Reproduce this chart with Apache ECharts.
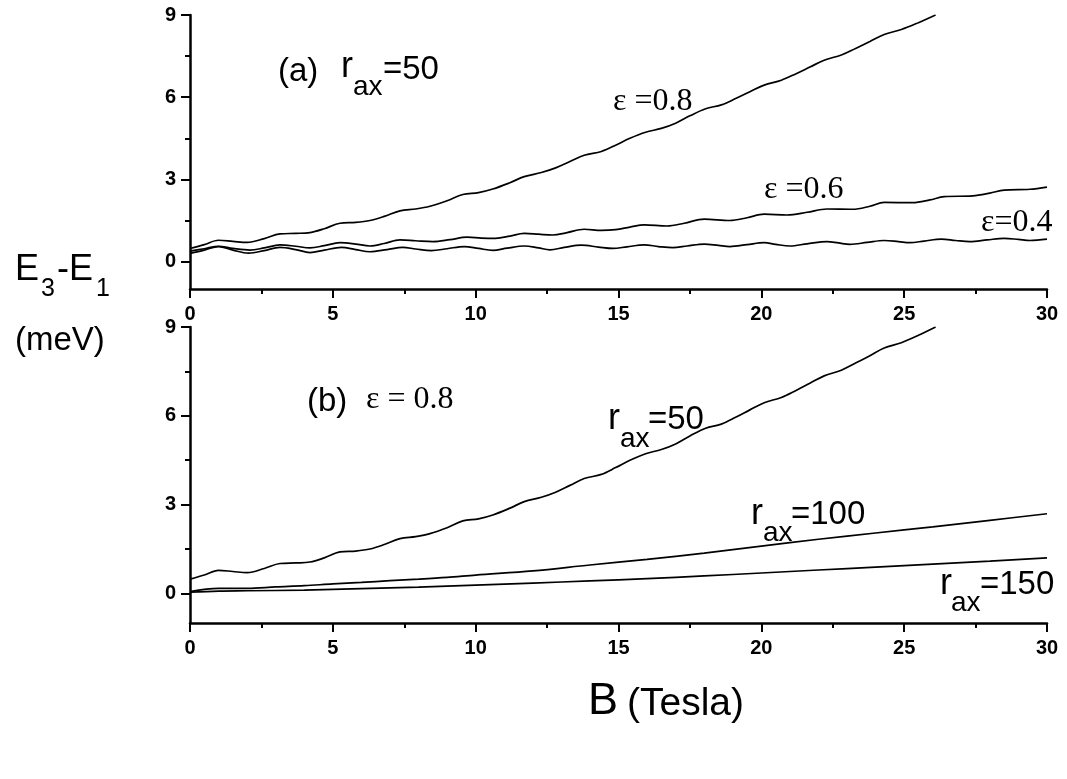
<!DOCTYPE html>
<html>
<head>
<meta charset="utf-8">
<script src="https://cdn.jsdelivr.net/npm/echarts@6/dist/echarts.min.js"></script>
<style>
  html, body { margin: 0; padding: 0; background: #fff; }
  #main { width: 1067px; height: 779px; }
</style>
</head>
<body>
<div id="main"></div>
<script>
// B (Tesla) and E3-E1 (meV)
const bEps08 = [0, 0.5, 1.0, 1.5, 2.0, 2.6, 3.15, 3.7, 4.2, 4.7, 5.25, 5.8, 6.3, 6.8, 7.35, 7.9, 8.4, 9.0, 9.55, 10.1, 10.6, 11.2, 11.7, 12.3, 12.8, 13.3, 13.8, 14.4, 14.9, 15.4, 15.95, 16.5, 17.0, 17.5, 18.05, 18.6, 19.1, 19.6, 20.1, 20.7, 21.2, 21.7, 22.2, 22.8, 23.3, 23.8, 24.3, 24.9, 25.5, 26.1];
const eps08 = [0.48, 0.62, 0.78, 0.74, 0.70, 0.84, 1.01, 1.03, 1.06, 1.20, 1.40, 1.43, 1.50, 1.65, 1.85, 1.92, 2.02, 2.22, 2.45, 2.52, 2.65, 2.88, 3.10, 3.25, 3.42, 3.65, 3.88, 4.02, 4.25, 4.50, 4.72, 4.86, 5.05, 5.32, 5.58, 5.72, 5.95, 6.20, 6.44, 6.62, 6.85, 7.10, 7.35, 7.54, 7.78, 8.03, 8.29, 8.47, 8.72, 9.0];

const bEps06 = [0, 0.5, 1.0, 1.5, 2.1, 2.6, 3.15, 3.7, 4.2, 4.7, 5.25, 5.8, 6.3, 6.8, 7.35, 7.9, 8.5, 9.1, 9.7, 10.2, 10.7, 11.2, 11.7, 12.2, 12.7, 13.2, 13.8, 14.4, 14.9, 15.4, 15.9, 16.7, 17.3, 18.0, 18.9, 19.5, 20.1, 20.9, 21.6, 22.3, 23.2, 23.8, 24.3, 25.3, 25.9, 26.4, 27.4, 28.0, 28.5, 29.4, 30.0];
const eps06 = [0.38, 0.47, 0.56, 0.48, 0.42, 0.50, 0.61, 0.56, 0.50, 0.58, 0.69, 0.64, 0.57, 0.66, 0.79, 0.76, 0.73, 0.80, 0.89, 0.86, 0.85, 0.93, 1.03, 1.00, 0.97, 1.06, 1.18, 1.14, 1.17, 1.26, 1.34, 1.30, 1.40, 1.55, 1.50, 1.60, 1.73, 1.70, 1.80, 1.92, 1.91, 2.02, 2.16, 2.15, 2.25, 2.37, 2.40, 2.50, 2.61, 2.64, 2.72];

const bEps04 = [0, 0.5, 1.0, 1.5, 2.05, 2.6, 3.15, 3.7, 4.2, 4.7, 5.3, 5.8, 6.3, 6.9, 7.45, 7.9, 8.45, 9.0, 9.6, 10.1, 10.6, 11.1, 11.7, 12.2, 12.6, 13.1, 13.7, 14.3, 14.8, 15.3, 15.9, 16.4, 16.9, 17.4, 18.0, 18.5, 18.9, 19.5, 20.1, 20.5, 21.0, 21.6, 22.3, 22.7, 23.1, 23.7, 24.3, 24.8, 25.2, 25.7, 26.3, 26.8, 27.3, 27.9, 28.5, 29.0, 29.4, 30.0];
const eps04 = [0.30, 0.42, 0.55, 0.42, 0.31, 0.40, 0.52, 0.44, 0.33, 0.42, 0.52, 0.44, 0.36, 0.44, 0.52, 0.46, 0.40, 0.47, 0.55, 0.48, 0.41, 0.49, 0.57, 0.50, 0.43, 0.52, 0.60, 0.53, 0.48, 0.54, 0.61, 0.55, 0.51, 0.57, 0.64, 0.59, 0.55, 0.62, 0.69, 0.63, 0.57, 0.65, 0.73, 0.68, 0.63, 0.70, 0.77, 0.73, 0.69, 0.75, 0.82, 0.77, 0.73, 0.79, 0.85, 0.81, 0.77, 0.82];

// panel (b): eps = 0.8, r_ax = 50 is the same curve as in panel (a)
const bRax50 = bEps08;
const rax50 = eps08;

const bRax100 = [0, 1, 2, 3, 4, 5, 6, 7, 8, 9, 10, 12, 14, 16, 18, 20, 22, 24, 26, 28, 30];
const rax100 = [0.06, 0.17, 0.17, 0.22, 0.26, 0.32, 0.37, 0.43, 0.48, 0.54, 0.62, 0.76, 0.96, 1.15, 1.36, 1.60, 1.83, 2.04, 2.25, 2.47, 2.69];

const bRax150 = [0, 1, 2, 4, 6, 8, 10, 12, 14, 16, 18, 20, 22, 24, 26, 28, 30];
const rax150 = [0.04, 0.08, 0.09, 0.11, 0.16, 0.21, 0.28, 0.35, 0.42, 0.50, 0.59, 0.69, 0.79, 0.89, 0.99, 1.09, 1.20];

const yTickValues = [0, 3, 6, 9];
const yMinorValues = [1.5, 4.5, 7.5];

const SANS = 'Liberation Sans';
const SERIF = 'Liberation Serif';

function zip(xs, ys) {
  return xs.map((x, i) => [x, ys[i]]);
}

function xAxisFor(gridIndex) {
  return {
    gridIndex: gridIndex,
    type: 'value',
    min: 0,
    max: 30,
    interval: 5,
    axisLine: { onZero: false, lineStyle: { color: '#000', width: 2.5 } },
    axisTick: { length: 9, lineStyle: { color: '#000', width: 2 } },
    minorTick: { show: true, splitNumber: 2, length: 5, lineStyle: { color: '#000', width: 2 } },
    axisLabel: { color: '#000', fontSize: 20, fontWeight: 'bold', fontFamily: SANS, margin: 15 },
    splitLine: { show: false },
    minorSplitLine: { show: false }
  };
}

function yAxesFor(gridIndex) {
  return [
    {
      gridIndex: gridIndex,
      type: 'value',
      min: -1,
      max: 9,
      axisLine: { show: true, onZero: false, lineStyle: { color: '#000', width: 2.5 } },
      axisTick: { show: true, length: 9, customValues: yTickValues, lineStyle: { color: '#000', width: 2 } },
      axisLabel: { color: '#000', fontSize: 20, fontWeight: 'bold', fontFamily: SANS, margin: 14, customValues: yTickValues },
      splitLine: { show: false }
    },
    {
      // only the minor ticks
      gridIndex: gridIndex,
      type: 'value',
      position: 'left',
      min: -1,
      max: 9,
      axisLine: { show: false, onZero: false },
      axisTick: { show: true, length: 5, customValues: yMinorValues, lineStyle: { color: '#000', width: 2 } },
      axisLabel: { show: false },
      splitLine: { show: false }
    }
  ];
}

function curve(name, xi, yi, data) {
  return {
    name: name,
    type: 'line',
    xAxisIndex: xi,
    yAxisIndex: yi,
    data: data,
    symbol: 'none',
    smooth: 0.35,
    lineStyle: { color: '#000', width: 1.7 },
    silent: true
  };
}

function label(x, y, text, size, family) {
  return {
    type: 'text',
    x: x,
    y: y,
    style: {
      text: text,
      fill: '#000',
      fontSize: size,
      fontFamily: family || SANS,
      align: 'left',
      verticalAlign: 'middle'
    }
  };
}

var chartDom = document.getElementById('main');
var myChart = echarts.init(chartDom, null, { renderer: 'canvas' });

var option = {
  backgroundColor: '#fff',
  animation: false,
  grid: [
    { left: 190, right: 20, top: 15, height: 274 },
    { left: 190, right: 20, top: 327, height: 296 }
  ],
  xAxis: [xAxisFor(0), xAxisFor(1)],
  yAxis: yAxesFor(0).concat(yAxesFor(1)),
  series: [
    curve('eps=0.8', 0, 0, zip(bEps08, eps08)),
    curve('eps=0.6', 0, 0, zip(bEps06, eps06)),
    curve('eps=0.4', 0, 0, zip(bEps04, eps04)),
    curve('rax=50', 1, 2, zip(bRax50, rax50)),
    curve('rax=100', 1, 2, zip(bRax100, rax100)),
    curve('rax=150', 1, 2, zip(bRax150, rax150))
  ],
  graphic: [
    // axis titles
    label(15, 270, 'E', 36),
    label(41, 289, '3', 25),
    label(57, 270, '-E', 36),
    label(96, 289, '1', 25),
    label(15, 341, '(meV)', 33),
    label(588, 702, 'B', 45),
    label(627, 704, '(Tesla)', 39),
    // panel (a)
    label(278, 72, '(a)', 33),
    label(341, 67, 'r', 36),
    label(353, 87, 'ax', 28),
    label(383, 70, '=50', 33),
    label(613, 102, 'ε =0.8', 32, SERIF),
    label(764, 190, 'ε =0.6', 32, SERIF),
    label(981, 223, 'ε=0.4', 32, SERIF),
    // panel (b)
    label(307, 402, '(b)', 33),
    label(366, 400, 'ε = 0.8', 32, SERIF),
    label(608, 419, 'r', 36),
    label(620, 439, 'ax', 28),
    label(648, 420, '=50', 33),
    label(751, 514, 'r', 36),
    label(763, 533, 'ax', 28),
    label(791, 515, '=100', 33),
    label(940, 584, 'r', 36),
    label(951, 603, 'ax', 28),
    label(980, 585, '=150', 33)
  ]
};

option && myChart.setOption(option);
</script>
</body>
</html>
